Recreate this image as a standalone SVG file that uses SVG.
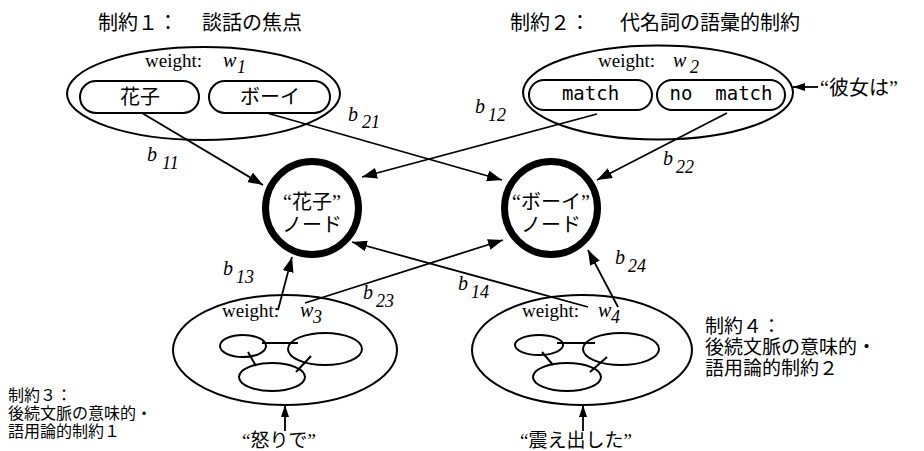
<svg xmlns="http://www.w3.org/2000/svg" width="924" height="451" viewBox="0 0 924 451">
<defs>
<marker id="ah" markerWidth="15" markerHeight="11" refX="15" refY="5.5" orient="auto" markerUnits="userSpaceOnUse"><path d="M0,0 L15,5.5 L0,11 Z" fill="#000"/></marker>
<marker id="ahs" markerWidth="12" markerHeight="8" refX="12" refY="4" orient="auto" markerUnits="userSpaceOnUse"><path d="M0,0 L12,4 L0,8 Z" fill="#000"/></marker>
</defs>
<style>
.jp{font-family:"Noto Sans CJK JP",sans-serif;fill:#000}
.jpq{font-family:"Liberation Serif","Noto Sans CJK JP",sans-serif;fill:#000}
.ser{font-family:"Liberation Serif",serif;fill:#000}
.it{font-family:"Liberation Serif",serif;font-style:italic;fill:#000}
.mono{font-family:"DejaVu Sans Mono",monospace;fill:#000}
.el{fill:none;stroke:#000;stroke-width:2}
.pill{fill:none;stroke:#000;stroke-width:2}
.node{fill:#fff;stroke:#000;stroke-width:7}
.net{fill:none;stroke:#000;stroke-width:2}
.con line{stroke:#000;stroke-width:1.8}
.big{marker-end:url(#ah)}
.small{marker-end:url(#ahs)}
</style>
<rect width="924" height="451" fill="#fff"/>

<!-- constraint 1 -->
<g id="c1">
<text class="jp" x="98" y="30" font-size="20">制約１：</text>
<text class="jp" x="202" y="30" font-size="20">談話の焦点</text>
<ellipse class="el" cx="203.5" cy="93.5" rx="136.5" ry="46.5"/>
<text class="ser" x="145" y="67" font-size="19">weight:</text>
<text class="it" x="223" y="67" font-size="20">w</text>
<text class="it" x="237" y="73" font-size="18">1</text>
<g id="c1-hanako"><rect class="pill" x="80" y="81" width="119" height="32" rx="16"/><text class="jp" x="140" y="104" font-size="20" text-anchor="middle">花子</text></g>
<g id="c1-boy"><rect class="pill" x="209" y="81" width="121" height="32" rx="16"/><text class="jp" x="270" y="104" font-size="20" text-anchor="middle">ボーイ</text></g>
</g>

<!-- constraint 2 -->
<g id="c2">
<text class="jp" x="510" y="30" font-size="20">制約２：</text>
<text class="jp" x="620" y="30" font-size="20">代名詞の語彙的制約</text>
<ellipse class="el" cx="658" cy="92.5" rx="135" ry="47"/>
<text class="ser" x="598" y="67" font-size="19">weight:</text>
<text class="it" x="673" y="67" font-size="20">w</text>
<text class="it" x="690" y="73" font-size="18">2</text>
<g id="c2-match"><rect class="pill" x="529" y="80" width="123" height="30" rx="15"/><text class="mono" x="590.5" y="100" font-size="19" text-anchor="middle">match</text></g>
<g id="c2-nomatch"><rect class="pill" x="657" y="80" width="128" height="30" rx="15"/><text class="mono" x="721" y="100" font-size="19" text-anchor="middle" xml:space="preserve">no  match</text></g>
</g>

<g id="input-kanojo">
<text class="jpq" x="820" y="95" font-size="20">“彼女は”</text>
</g>

<!-- constraint 3 -->
<g id="c3">
<ellipse class="el" cx="285" cy="350" rx="112" ry="55"/>
<text class="ser" x="222" y="317" font-size="19">weight:</text>
<text class="it" x="300" y="317" font-size="20">w</text>
<text class="it" x="313" y="323" font-size="18">3</text>
<ellipse class="net" cx="243" cy="346" rx="23" ry="11"/>
<ellipse class="net" cx="325" cy="349" rx="37" ry="16"/>
<ellipse class="net" cx="272" cy="377" rx="33" ry="14"/>
<line class="net" x1="262" y1="343" x2="298" y2="343"/>
<line class="net" x1="248" y1="352" x2="256" y2="366"/>
<line class="net" x1="311" y1="356" x2="296" y2="372"/>
<text class="jp" font-size="16"><tspan x="8" y="401">制約３：</tspan><tspan x="8" y="419">後続文脈の意味的・</tspan><tspan x="8" y="437">語用論的制約１</tspan></text>
</g>

<!-- constraint 4 -->
<g id="c4">
<ellipse class="el" cx="582" cy="350" rx="110" ry="55"/>
<text class="ser" x="522" y="317" font-size="19">weight:</text>
<text class="it" x="598" y="317" font-size="20">w</text>
<text class="it" x="611" y="323" font-size="18">4</text>
<ellipse class="net" cx="539" cy="345" rx="24" ry="10"/>
<ellipse class="net" cx="621" cy="349" rx="38" ry="16"/>
<ellipse class="net" cx="567" cy="377" rx="34" ry="14"/>
<line class="net" x1="557" y1="343" x2="595" y2="343"/>
<line class="net" x1="542" y1="352" x2="553" y2="365"/>
<line class="net" x1="607" y1="357" x2="590" y2="372"/>
<text class="jp" font-size="19"><tspan x="705" y="333">制約４：</tspan><tspan x="705" y="354">後続文脈の意味的・</tspan><tspan x="705" y="375">語用論的制約２</tspan></text>
</g>

<g id="input-okori">
<text class="jpq" x="242" y="447" font-size="19">“怒りで”</text>
</g>
<g id="input-furue">
<text class="jpq" x="520" y="447" font-size="19">“震え出した”</text>
</g>

<!-- connectors -->
<g id="connectors" class="con">
<line class="big" x1="142" y1="113" x2="263" y2="185"/>
<line class="big" x1="267" y1="113" x2="502" y2="180"/>
<line class="big" x1="597" y1="114" x2="362" y2="177"/>
<line class="big" x1="727" y1="113" x2="597" y2="180"/>
<line class="big" x1="278" y1="310" x2="292" y2="257"/>
<line class="big" x1="305" y1="303" x2="503" y2="240"/>
<line class="big" x1="588" y1="307" x2="352" y2="242"/>
<line class="big" x1="618" y1="307" x2="588" y2="250"/>
<line class="small" x1="818" y1="87" x2="793" y2="87"/>
<line class="small" x1="285" y1="431" x2="285" y2="405"/>
<line class="small" x1="583" y1="431" x2="583" y2="405"/>
</g>

<g id="labels">
<text class="it" x="147" y="161" font-size="20">b</text><text class="it" x="162" y="169" font-size="18">11</text>
<text class="it" x="348" y="121" font-size="20">b</text><text class="it" x="362" y="128" font-size="18">21</text>
<text class="it" x="475" y="113" font-size="20">b</text><text class="it" x="488" y="121" font-size="18">12</text>
<text class="it" x="663" y="165" font-size="20">b</text><text class="it" x="676" y="173" font-size="18">22</text>
<text class="it" x="223" y="275" font-size="20">b</text><text class="it" x="236" y="283" font-size="18">13</text>
<text class="it" x="363" y="299" font-size="20">b</text><text class="it" x="376" y="307" font-size="18">23</text>
<text class="it" x="458" y="290" font-size="20">b</text><text class="it" x="471" y="298" font-size="18">14</text>
<text class="it" x="615" y="264" font-size="20">b</text><text class="it" x="628" y="272" font-size="18">24</text>
</g>

<!-- central nodes -->
<g id="node-hanako">
<circle class="node" cx="312" cy="208" r="46.5"/>
<text class="jpq" x="312" y="209" font-size="20" text-anchor="middle">“花子”</text>
<text class="jp" x="312" y="232" font-size="20" text-anchor="middle">ノード</text>
</g>
<g id="node-boy">
<circle class="node" cx="551" cy="208" r="46.5"/>
<text class="jpq" x="551" y="209" font-size="20" text-anchor="middle">“ボーイ”</text>
<text class="jp" x="551" y="232" font-size="20" text-anchor="middle">ノード</text>
</g>
</svg>
